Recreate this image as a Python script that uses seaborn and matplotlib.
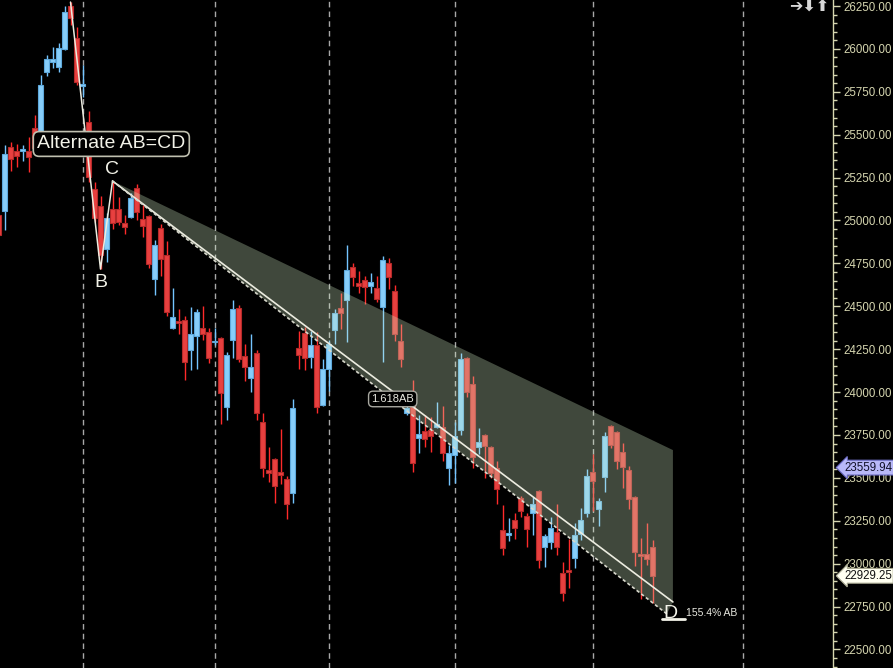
import matplotlib
matplotlib.use("Agg")
import matplotlib.pyplot as plt
import matplotlib.ticker as mticker
import matplotlib.transforms as mtransforms
import numpy as np
import seaborn as sns

# ── DATA ──────────────────────────────────────────────────────────────────────
bar_idx = list(range(-1, 109))

opens = [25032,
         25055, 25428, 25405, 25405, 25405, 25539, 25457, 25865, 25924, 25895,
         25999, 26250, 26064, 25784, 25574, 25184, 25084, 24834, 25067, 25067,
         24985, 25020, 25189, 25009, 25026, 24659, 24956, 24799, 24373, 24414,
         24420, 24245, 24327, 24373, 24350, 24292, 24315, 23913, 24303, 24490,
         24210, 24082, 24228, 23826, 23546, 23610, 23534, 23493, 23412, 24257,
         24344, 24205, 24274, 23925, 24134, 24362, 24490, 24537, 24729, 24636,
         24653, 24618, 24607, 24496, 24752, 24589, 24298, 23878, 23919, 23732,
         23773, 23779, 23796, 23796, 23557, 23633, 23779, 24199, 24047, 23680,
         23750, 23680, 23557, 23196, 23167, 23254, 23383, 23278, 23295, 23423,
         23097, 23126, 23185, 22946, 22963, 23033, 23173, 23295, 23534, 23318,
         23505, 23802, 23767, 23651, 23546, 23388, 23056, 23056, 23097]
highs = [25044,
         25440, 25457, 25446, 25440, 25487, 25615, 25848, 25964, 26011, 26034,
         26250, 26273, 26128, 25906, 25638, 25224, 25143, 25044, 25230, 25137,
         25032, 25160, 25213, 25090, 25032, 24886, 24980, 24880, 24607, 24484,
         24443, 24496, 24484, 24502, 24373, 24373, 24321, 24234, 24537, 24507,
         24280, 24338, 24245, 23878, 23680, 23615, 23785, 23511, 23960, 24356,
         24379, 24356, 24350, 24193, 24303, 24484, 24577, 24857, 24752, 24706,
         24676, 24694, 24676, 24793, 24781, 24624, 24397, 23954, 24070, 23866,
         23866, 23855, 23942, 23919, 23692, 23826, 24228, 24205, 24094, 23791,
         23755, 23685, 23598, 23342, 23266, 23295, 23394, 23295, 23388, 23429,
         23173, 23272, 23348, 23010, 23144, 23237, 23324, 23552, 23639, 23383,
         23767, 23808, 23773, 23703, 23569, 23394, 23150, 23237, 23138]
lows = [24910,
        24945, 25288, 25312, 25347, 25283, 25399, 25422, 25842, 25889, 25865,
        25995, 26139, 25790, 25720, 25224, 24991, 24717, 24758, 24950, 24974,
        24921, 25014, 25003, 24904, 24723, 24566, 24676, 24443, 24370, 24338,
        24070, 24129, 24134, 24303, 24169, 24274, 23814, 23837, 24199, 24175,
        24065, 24000, 23837, 23505, 23476, 23354, 23464, 23260, 23354, 24134,
        24129, 24140, 23878, 23920, 24006, 24280, 24368, 24292, 24618, 24577,
        24513, 24577, 24525, 24175, 24601, 24298, 24146, 23866, 23534, 23645,
        23680, 23651, 23790, 23598, 23458, 23470, 23750, 23971, 23557, 23639,
        23499, 23499, 23348, 23050, 23132, 23144, 23272, 23097, 23167, 22975,
        22981, 23085, 23050, 22782, 22858, 22975, 23138, 23272, 23307, 23219,
        23418, 23674, 23552, 23441, 23318, 22986, 22794, 22992, 22771]
closes = [24915,
          25387, 25358, 25376, 25414, 25370, 25422, 25790, 25941, 25941, 26005,
          26215, 26180, 25807, 25795, 25253, 25014, 24799, 25014, 24985, 24991,
          24962, 25131, 25049, 24968, 24746, 24857, 24776, 24467, 24438, 24403,
          24175, 24338, 24467, 24338, 24199, 24300, 23995, 24216, 24484, 24193,
          24146, 24146, 23878, 23557, 23528, 23453, 23517, 23348, 23907, 24216,
          24199, 24274, 23913, 24134, 24280, 24461, 24461, 24711, 24671, 24618,
          24612, 24642, 24542, 24770, 24671, 24338, 24193, 23907, 23587, 23756,
          23726, 23744, 23814, 23645, 23645, 23744, 24193, 24000, 23622, 23709,
          23686, 23528, 23435, 23091, 23179, 23208, 23307, 23202, 23348, 23021,
          23161, 23208, 23097, 22829, 22951, 23167, 23254, 23511, 23482, 23365,
          23744, 23692, 23598, 23563, 23377, 23068, 23045, 23027, 22929.25]

month_marks = [13, 35, 54, 75, 98, 123]
price_ticks = [22500, 22750, 23000, 23250, 23500, 23750, 24000, 24250,
               24500, 24750, 25000, 25250, 25500, 25750, 26000, 26250]

# pattern points A, B, C and projection ends
abc_x = [11, 16, 18]
abc_y = [26273, 24717, 25230]
proj_solid_x = [18, 111.4]
proj_solid_y = [25230, 22777]
proj_dash_x = [18, 110.4]
proj_dash_y = [25230, 22707]
zone_x = [18, 111.4, 111.4, 110.4]
zone_y = [25230, 23662, 22777, 22707]

last_price = 22929.25
avg_price = 23559.94

# ── STYLE ─────────────────────────────────────────────────────────────────────
sns.set_theme(style="dark", rc={"axes.facecolor": "black",
                                "figure.facecolor": "black"})
plt.rcParams["font.family"] = ["Liberation Sans", "DejaVu Sans"]

UP, UP_EDGE, UP_WICK = "#87cefa", "#5ea9dc", "#74c4ff"
DN, DN_EDGE, DN_WICK = "#e8403f", "#b52a2a", "#ff2a2a"
AXC = "#d6d6b0"
LINE = "#ecece0"

fig = plt.figure(figsize=(8.93, 6.68), dpi=100)
ax = fig.add_axes([0, 0, 833 / 893, 1])
ax.set_facecolor("black")

# month separators
for m in month_marks:
    ax.axvline(m, color="#a8a8a8", lw=1, ls=(0, (4, 3)), zorder=1)

# candles
x = np.array(bar_idx)
o = np.array(opens, dtype=float)
h = np.array(highs, dtype=float)
l = np.array(lows, dtype=float)
c = np.array(closes, dtype=float)
up = c >= o
body_lo = np.minimum(o, c)
body_h = np.maximum(np.abs(c - o), 8)

ax.vlines(x[up], l[up], h[up], color=UP_WICK, lw=1, zorder=2)
ax.vlines(x[~up], l[~up], h[~up], color=DN_WICK, lw=1, zorder=2)
ax.bar(x[up], body_h[up], bottom=body_lo[up], width=0.72,
       color=UP, edgecolor=UP_EDGE, linewidth=0.8, zorder=3)
ax.bar(x[~up], body_h[~up], bottom=body_lo[~up], width=0.72,
       color=DN, edgecolor=DN_EDGE, linewidth=0.8, zorder=3)

# projection zone
ax.fill(zone_x, zone_y, facecolor="#d5f0c8", alpha=0.3, lw=0, zorder=4)
ax.plot(abc_x, abc_y, color=LINE, lw=1.1, zorder=5)
ax.plot(proj_solid_x, proj_solid_y, color=LINE, lw=1.2, zorder=5)
ax.plot(proj_dash_x, proj_dash_y, color="#d8d8cc", lw=1.2,
        ls=(0, (2, 1.5)), zorder=5)

# labels
ax.text(17.8, 25446, "Alternate AB=CD", fontsize=14, color="#f2f2e8",
        ha="center", va="center", zorder=7,
        bbox=dict(boxstyle="round,pad=0.2,rounding_size=0.3", fc="black",
                  ec="#c0c0b0", lw=1.2))
ax.text(16.1, 24636, "B", fontsize=14, color="#f2f2e8", ha="center",
        va="center", zorder=7)
ax.text(17.9, 25300, "C", fontsize=14, color="#f2f2e8", ha="center",
        va="center", zorder=7)
ax.text(64.7, 23960, "1.618AB", fontsize=8, color="#e8e8e0", ha="center",
        va="center", zorder=7,
        bbox=dict(boxstyle="round,pad=0.25,rounding_size=0.4", fc="black",
                  ec="#a8a8a0", lw=1))
ax.text(111.0, 22712, "D", fontsize=14, color="#f2f2e8", ha="center",
        va="center", zorder=7)
ax.plot([109.6, 113.4], [22678, 22678], color="#f2f2e8", lw=2, zorder=7)
ax.text(113.6, 22712, "155.4% AB", fontsize=7.5, color="#e8e8e0",
        ha="left", va="center", zorder=7)

# axes
ax.set_xlim(-0.75, 138.08)
ax.set_ylim(22392, 26285)
ax.set_xticks([])
ax.set_yticks(price_ticks)
ax.yaxis.set_minor_locator(mticker.MultipleLocator(50))
ax.yaxis.set_major_formatter(mticker.FuncFormatter(lambda v, _: f"{v:.2f}"))
ax.yaxis.tick_right()
ax.tick_params(axis="y", which="major", direction="out", length=5, width=1,
               color=AXC, labelcolor=AXC, labelsize=8.3, pad=2.5)
ax.tick_params(axis="y", which="minor", direction="out", length=3, width=1,
               color=AXC)
ax.grid(False)
for side in ["left", "top", "bottom"]:
    ax.spines[side].set_visible(False)
ax.spines["right"].set_color(AXC)
ax.spines["right"].set_linewidth(1)

# price tags on the axis
trans = mtransforms.blended_transform_factory(ax.transAxes, ax.transData)
ax.text(844 / 833, avg_price, f"{avg_price:.2f}", transform=trans,
        fontsize=8.3, color="#101028", ha="left", va="center", clip_on=False,
        zorder=8, bbox=dict(boxstyle="larrow,pad=0.12", fc="#b8b8f8",
                            ec="#7070c8", lw=0.8))
ax.text(844 / 833, last_price, f"{last_price:.2f}", transform=trans,
        fontsize=8.3, color="#101010", ha="left", va="center", clip_on=False,
        zorder=8, bbox=dict(boxstyle="larrow,pad=0.12", fc="#fffff0",
                            ec="#a8a890", lw=0.8))

# toolbar arrows top right
fig.text(809 / 893, 1 - 6 / 668, "\u2794\u2b07\u2b06", fontsize=11.5,
         color="#d8d8d8", ha="center", va="center", fontweight="bold",
         family="DejaVu Sans")

plt.savefig("out.png", dpi=100, facecolor="black")
